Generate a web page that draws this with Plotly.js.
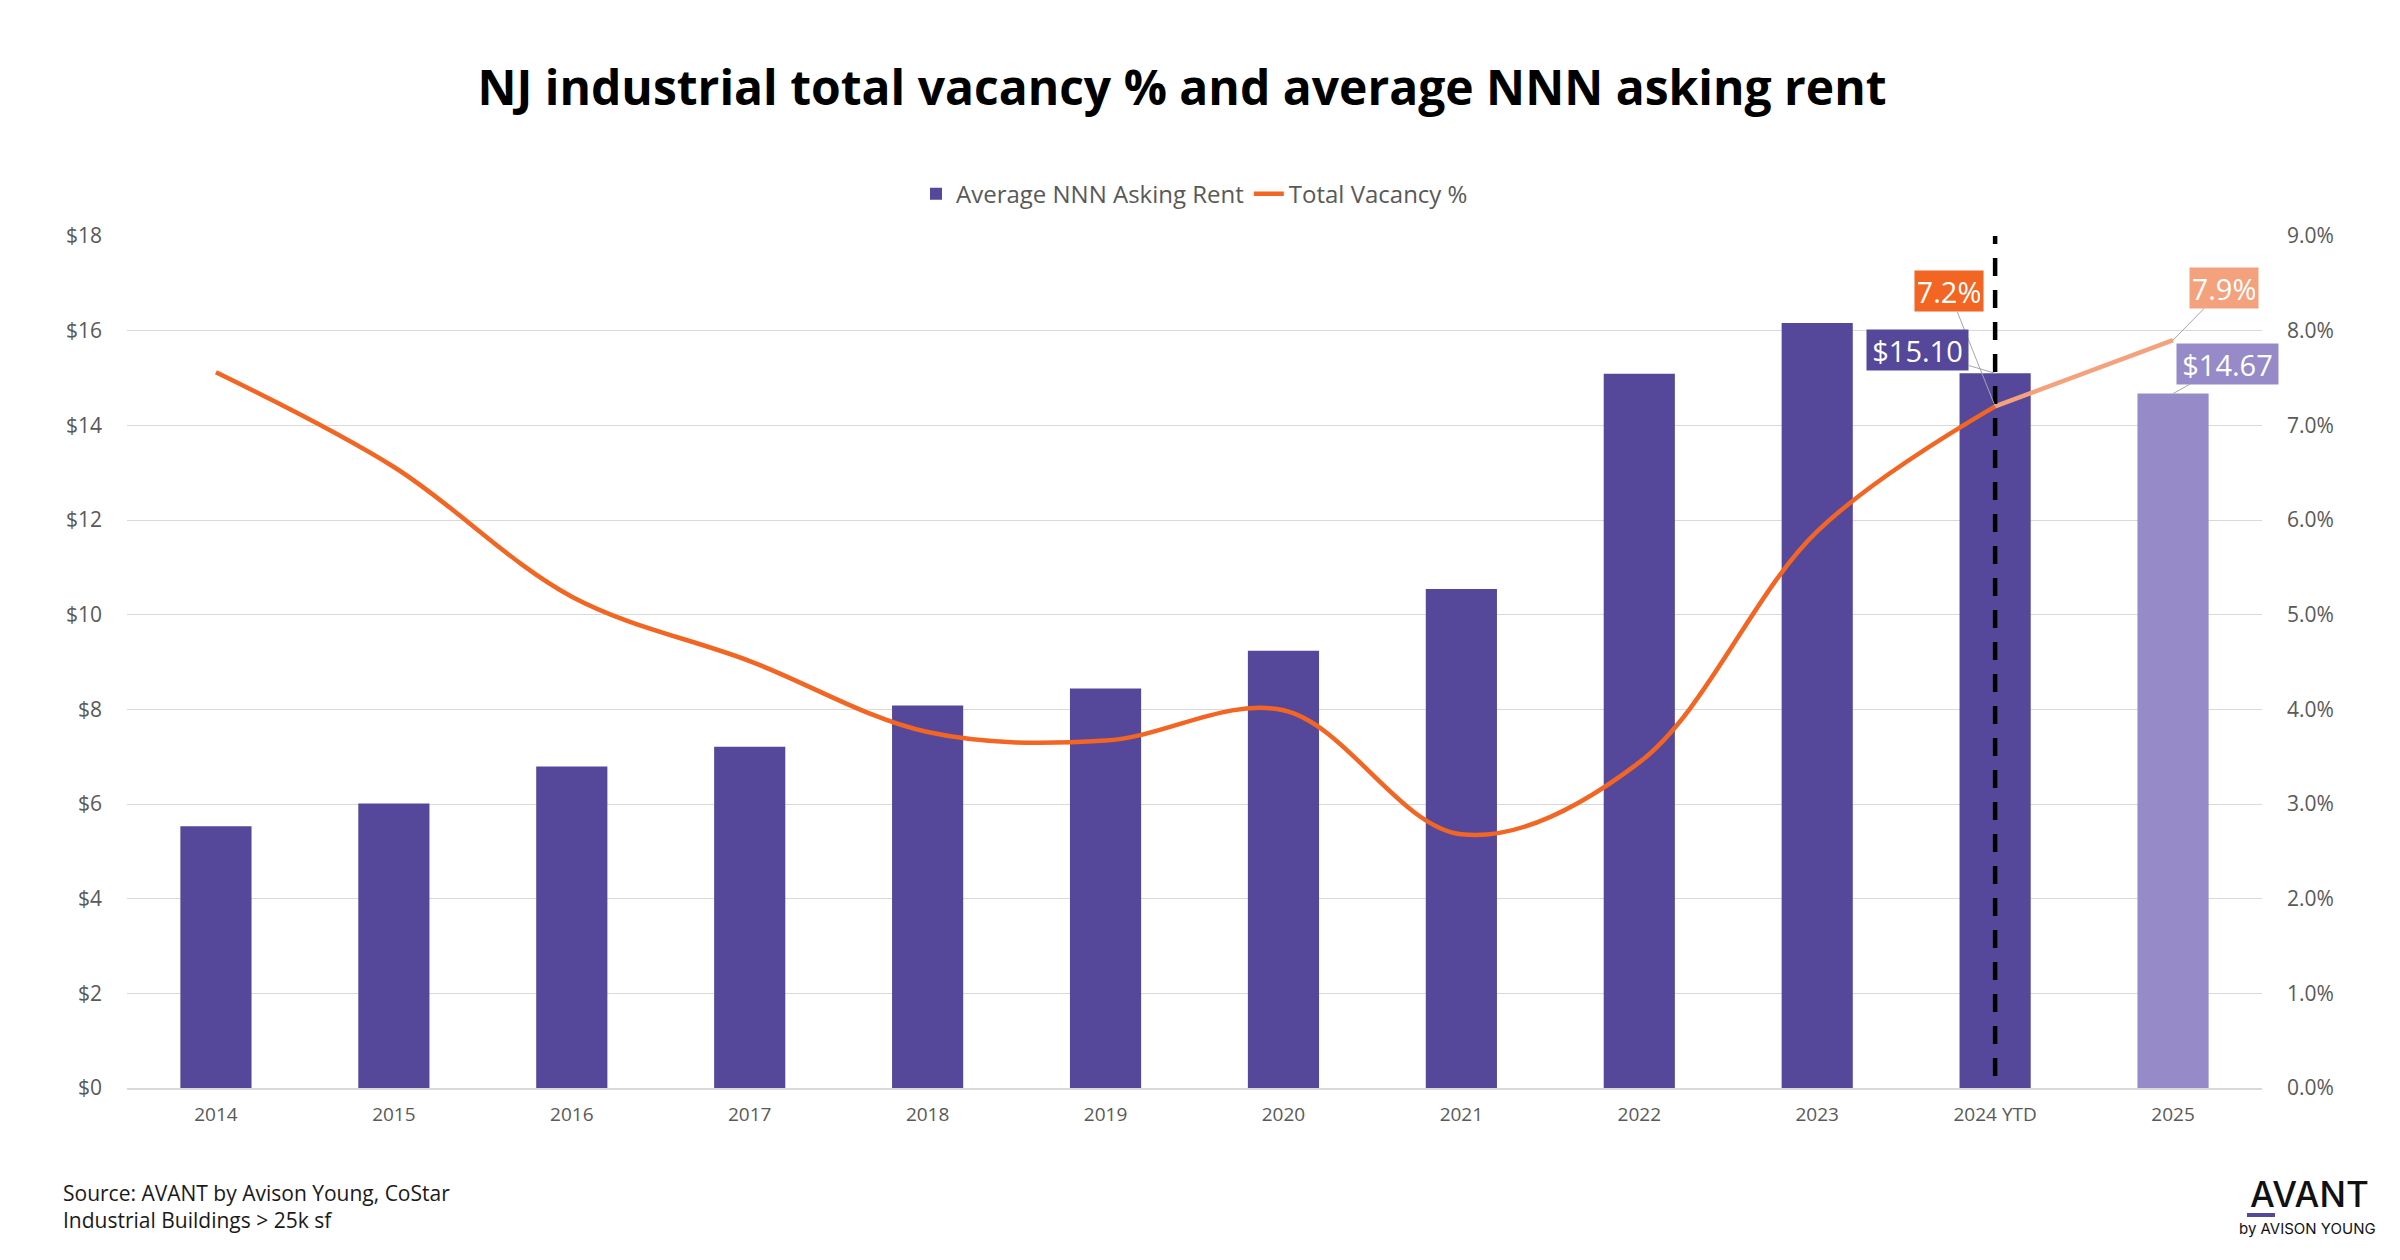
<!DOCTYPE html>
<html>
<head>
<meta charset="utf-8">
<script src="https://cdn.plot.ly/plotly-3.0.1.min.js"></script>
<style>html,body{margin:0;padding:0;background:#fff;}#chart{width:2400px;height:1260px;}</style>
</head>
<body>
<div id="chart"></div>
<script>
const categories = ["2014","2015","2016","2017","2018","2019","2020","2021","2022","2023","2024 YTD","2025"];
const askingRent = [5.53, 6.01, 6.79, 7.21, 8.08, 8.44, 9.24, 10.54, 15.09, 16.16, 15.10, 14.67];
const vacancyPct = [7.56, 6.56, 5.19, 4.51, 3.76, 3.67, 3.99, 2.68, 3.44, 5.88, 7.2, 7.9];
const rentTicks = [0,2,4,6,8,10,12,14,16,18];
const vacTicks = [0,1,2,3,4,5,6,7,8,9];

const PURPLE = "#55489B", PURPLE_LIGHT = "#968BC8";
const ORANGE = "#F26522", ORANGE_LIGHT = "#F4A27E";
const FONT = "Open Sans";

const nHist = 11; // 2014..2024 YTD actual; 2025 forecast
const barColors = categories.map((c,i)=> i < nHist ? PURPLE : PURPLE_LIGHT);

const traces = [
  {type:"bar", name:"Average NNN Asking Rent", x:categories, y:askingRent,
   marker:{color:barColors}, yaxis:"y"},
  {type:"scatter", mode:"lines", name:"Total Vacancy %", x:categories.slice(0,nHist), y:vacancyPct.slice(0,nHist),
   line:{color:ORANGE, width:4.5, shape:"spline", smoothing:1}, yaxis:"y2"},
  {type:"scatter", mode:"lines", name:"Forecast", showlegend:false, x:categories.slice(nHist-1), y:vacancyPct.slice(nHist-1),
   line:{color:ORANGE_LIGHT, width:4.5, shape:"spline", smoothing:1}, yaxis:"y2"}
];

const i24 = nHist-1, i25 = nHist;
function lab(text, idx, y, yref, ax, ay, bg, w){
  return {text:text, x:idx, y:y, xref:"x", yref:yref, ax:ax, ay:ay, axref:"pixel", ayref:"pixel",
    showarrow:true, arrowhead:0, arrowwidth:1, arrowcolor:"#A6A6A6", standoff:0, startstandoff:0,
    width:w, height:34, bgcolor:bg, borderpad:3, font:{family:FONT, size:29, color:"#ffffff"}};
}

const annotations = [
  lab(vacancyPct[i24].toFixed(1)+"%", i24, vacancyPct[i24], "y2", -46, -115, ORANGE, 62),
  lab("$"+askingRent[i24].toFixed(2), i24, askingRent[i24], "y", -78, -23, PURPLE, 95),
  lab(vacancyPct[i25].toFixed(1)+"%", i25, vacancyPct[i25], "y2", 51, -52, ORANGE_LIGHT, 62),
  lab("$"+askingRent[i25].toFixed(2), i25, askingRent[i25], "y", 54, -30, PURPLE_LIGHT, 95),
  {text:"Source: AVANT by Avison Young, CoStar<br>Industrial Buildings > 25k sf", xref:"paper", yref:"paper",
   x:-0.031, y:-0.104, xanchor:"left", yanchor:"top", align:"left", showarrow:false,
   font:{family:FONT, size:21, color:"#1a1a1a"}},
  {text:"AVANT", xref:"paper", yref:"paper", x:(2309-127)/2135, y:(1088-1194)/852, xanchor:"center", yanchor:"middle",
   showarrow:false, font:{family:"Inter", size:35, color:"#111111", weight:500}},
  {text:"by AVISON YOUNG", xref:"paper", yref:"paper", x:(2308-127)/2135, y:(1088-1228)/852, xanchor:"center", yanchor:"middle",
   showarrow:false, font:{family:"Inter", size:15, color:"#111111"}}
];

const shapes = [
  {type:"line", xref:"x", yref:"paper", x0:i24, x1:i24, y0:0.014, y1:1,
   line:{color:"#000000", width:4.5, dash:"18px,14px"}},
  {type:"rect", xref:"paper", yref:"paper", x0:(2247-127)/2135, x1:(2275-127)/2135,
   y0:(1088-1217)/852, y1:(1088-1213)/852, fillcolor:PURPLE, line:{width:0}}
];

const layout = {
  width:2400, height:1260,
  margin:{l:127, r:138, t:236, b:172},
  paper_bgcolor:"#ffffff", plot_bgcolor:"#ffffff",
  font:{family:FONT, color:"#595959"},
  title:{text:"<b>NJ industrial total vacancy % and average NNN asking rent</b>", x:0.4925, xanchor:"center",
    y:0.930, yanchor:"middle", font:{family:FONT, size:48, color:"#000000"}},
  showlegend:true,
  legend:{orientation:"h", x:0.5, xanchor:"center", y:1.049, yanchor:"middle",
    font:{family:FONT, size:24, color:"#595959"}, itemwidth:30, tracegroupgap:0, traceorder:"normal"},
  bargap:0.6,
  xaxis:{type:"category", categoryorder:"array", categoryarray:categories,
    showgrid:false, showline:true, linecolor:"#D9D9D9", linewidth:1.5, ticks:"",
    tickfont:{family:FONT, size:19, color:"#595959"}, ticklabelstandoff:9, range:[-0.5,11.5]},
  yaxis:{range:[0,18], tickvals:rentTicks, ticktext:rentTicks.map(v=>"$"+v), showgrid:true, gridcolor:"#D9D9D9",
    gridwidth:1, zeroline:false, showline:false, ticks:"", ticklabelstandoff:24,
    tickfont:{family:FONT, size:21, color:"#595959"}},
  yaxis2:{range:[0,9], overlaying:"y", side:"right", tickvals:vacTicks, ticktext:vacTicks.map(v=>v.toFixed(1)+"%"),
    showgrid:false, zeroline:false, showline:false, ticks:"", ticklabelstandoff:24,
    tickfont:{family:FONT, size:21, color:"#595959"}},
  annotations:annotations,
  shapes:shapes
};

Plotly.newPlot("chart", traces, layout, {displayModeBar:false, staticPlot:true});
</script>
</body>
</html>
